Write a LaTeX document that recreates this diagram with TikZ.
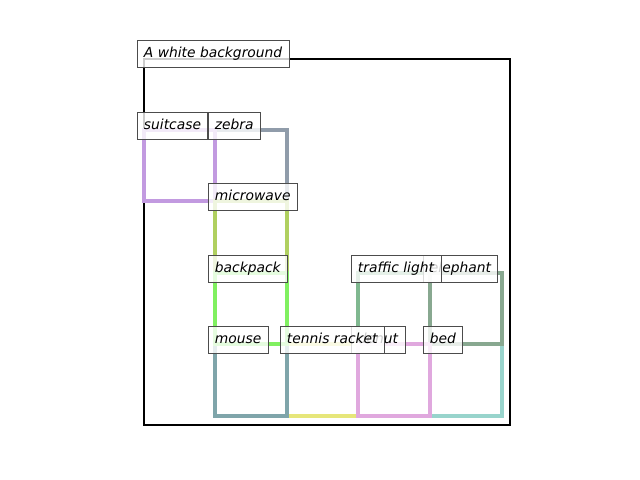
\documentclass[tikz,border=0pt]{standalone}
\usepackage{fontspec}
\setmainfont{DejaVu Sans}
\usepackage{xcolor}
\definecolor{SuitcaseLine}{HTML}{C29AE0}
\definecolor{ZebraLine}{HTML}{909CAA}
\definecolor{MicrowaveLine}{HTML}{B0D060}
\definecolor{BackpackLine}{HTML}{80F060}
\definecolor{MouseLine}{HTML}{7FA5AA}
\definecolor{RacketLine}{HTML}{E6E67A}
\definecolor{DonutLine}{HTML}{E0A8DE}
\definecolor{BedLine}{HTML}{98D4CC}
\definecolor{TrafficLine}{HTML}{80B890}
\definecolor{ElephantLine}{HTML}{88A890}
\usepackage{tikz}
\tikzset{
  % Box styles
  objbox/.style={line width=2.2pt},
  bgbox/.style={line width=2pt, draw=black},
  % Label styles
  labelbox/.style={rectangle, anchor=north west, draw=black!70, line width=0.7pt, fill=white, fill opacity=0.8, draw opacity=1, text opacity=1, inner sep=5pt, outer sep=0pt, text height=7.6pt, text depth=2.6pt, font=\fontsize{10pt}{12pt}\selectfont\itshape}
}
\begin{document}
\begin{tikzpicture}[x=0.01in, y=-0.01in]
  \useasboundingbox (0,0) rectangle (640,480);

  % boxes
  \draw[bgbox] (144,59) rectangle (510,425);
  \draw[objbox, draw=ZebraLine] (215,130) rectangle (287,201);
  \draw[objbox, draw=SuitcaseLine] (144,130) rectangle (215,201);
  \draw[objbox, draw=MicrowaveLine] (215,201) rectangle (287,273);
  \draw[objbox, draw=TrafficLine] (358,273) rectangle (430,344);
  \draw[objbox, draw=BedLine] (430,344) rectangle (502,416);
  \draw[objbox, draw=ElephantLine] (430,273) rectangle (502,344);
  \draw[objbox, draw=RacketLine] (287,344) rectangle (358,416);
  \draw[objbox, draw=DonutLine] (358,344) rectangle (430,416);
  \draw[objbox, draw=MouseLine] (215,344) rectangle (287,416);
  \draw[objbox, draw=BackpackLine] (215,273) rectangle (287,344);

  % labels
  \node[labelbox] (background) at (137,40) {A white background};
  \node[labelbox] (suitcase) at (137,112) {suitcase};
  \node[labelbox] (zebra) at (208,112) {zebra};
  \node[labelbox] (microwave) at (208,183) {microwave};
  \node[labelbox] (backpack) at (208,255) {backpack};
  \node[labelbox] (elephant) at (423,255) {elephant};
  \node[labelbox] (traffic) at (351,255) {traffic light};
  \node[labelbox] (mouse) at (208,326) {mouse};
  \node[labelbox] (donut) at (351,326) {donut};
  \node[labelbox] (racket) at (280,326) {tennis racket};
  \node[labelbox] (bed) at (423,326) {bed};
\end{tikzpicture}
\end{document}
